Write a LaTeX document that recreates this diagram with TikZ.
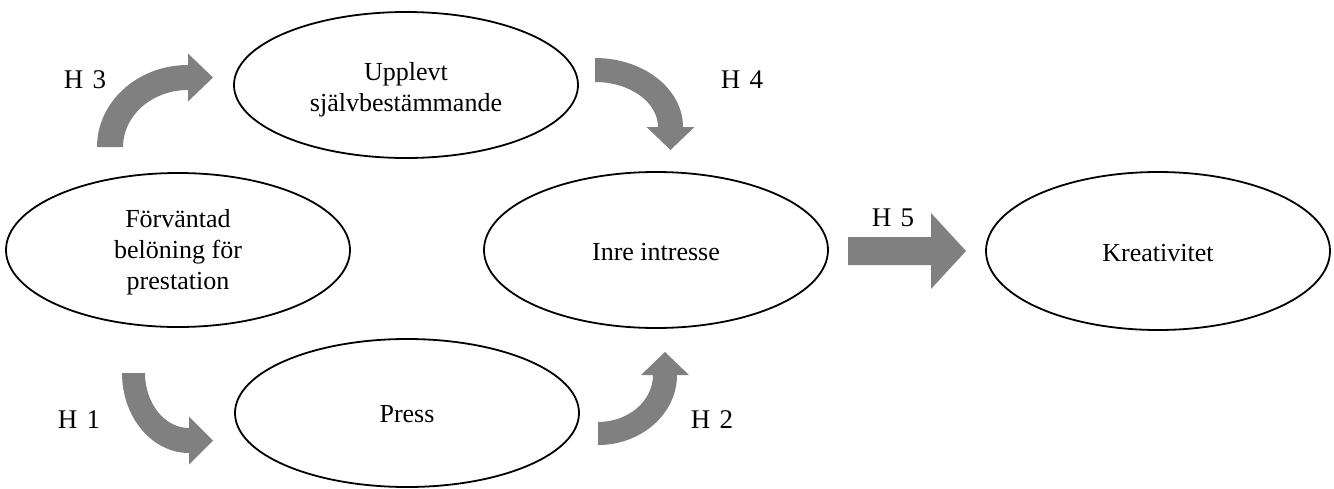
\documentclass[tikz,border=0pt]{standalone}
\usepackage{fontspec}
\setmainfont{Liberation Serif}
\usetikzlibrary{shapes.geometric}
\tikzset{
  oval/.style={ellipse, draw=black, line width=1.8pt, inner sep=0pt, minimum width=344pt},
  txt/.style={align=center, inner sep=0pt, font=\fontsize{26}{31}\selectfont},
  hlab/.style={font=\fontsize{27}{31}\selectfont, inner sep=0pt},
  blockarrow/.style={fill=black!50, draw=none}
}
\begin{document}
\begin{tikzpicture}[x=1pt,y=1pt]
\useasboundingbox (0,0) rectangle (1334,-488);
% ellipses
\node[oval, minimum height=146pt] (upp) at (406,-85) {};
\node[oval, minimum height=154pt] (forv) at (178,-250) {};
\node[oval, minimum height=156pt] (inre) at (656,-250) {};
\node[oval, minimum height=158pt] (krea) at (1158,-251) {};
\node[oval, minimum height=148pt] (press) at (407,-413) {};
% texts
\node[txt] (uppt) at ([yshift=-5pt]upp.center) {Upplevt\\självbestämmande};
\node[txt] (forvt) at ([yshift=-2pt]forv.center) {Förväntad\\belöning för\\prestation};
\node[txt] (inret) at ([yshift=-2pt]inre.center) {Inre intresse};
\node[txt] (kreat) at ([yshift=-2pt]krea.center) {Kreativitet};
\node[txt] (presst) at ([yshift=-1pt]press.center) {Press};
% H3 arrow
\fill[blockarrow] (97,-147) arc[start angle=180,end angle=90,x radius=91,y radius=82]
  -- (188,-53.5) -- (213,-77.5) -- (188,-101.5) -- (188,-90)
  arc[start angle=90,end angle=180,x radius=65,y radius=57] -- cycle;
% H4 arrow
\fill[blockarrow] (595,-58) arc[start angle=90,end angle=0,x radius=88,y radius=69]
  -- (694.5,-127) -- (670.5,-150) -- (646.5,-127) -- (658,-127)
  arc[start angle=0,end angle=90,x radius=63,y radius=45] -- cycle;
% H1 arrow
\fill[blockarrow] (122,-373) arc[start angle=180,end angle=270,x radius=67,y radius=80]
  -- (189,-464.5) -- (213,-440.5) -- (189,-416.5) -- (189,-428)
  arc[start angle=270,end angle=180,x radius=44,y radius=55] -- cycle;
% H2 arrow
\fill[blockarrow] (598,-445) arc[start angle=270,end angle=360,x radius=79,y radius=70]
  -- (689,-375) -- (665,-352) -- (641,-375) -- (653,-375)
  arc[start angle=360,end angle=270,x radius=55,y radius=47] -- cycle;
% H5 arrow
\fill[blockarrow] (848,-237) -- (931,-237) -- (931,-213) -- (966,-251) -- (931,-289) -- (931,-265) -- (848,-265) -- cycle;
% labels
\node[hlab] (h3) at (85,-80) {H\hspace{0.35em}3};
\node[hlab] (h4) at (742,-80) {H\hspace{0.35em}4};
\node[hlab] (h5) at (893,-218) {H\hspace{0.35em}5};
\node[hlab] (h1) at (79,-420) {H\hspace{0.35em}1};
\node[hlab] (h2) at (712,-420) {H\hspace{0.35em}2};
\end{tikzpicture}
\end{document}
